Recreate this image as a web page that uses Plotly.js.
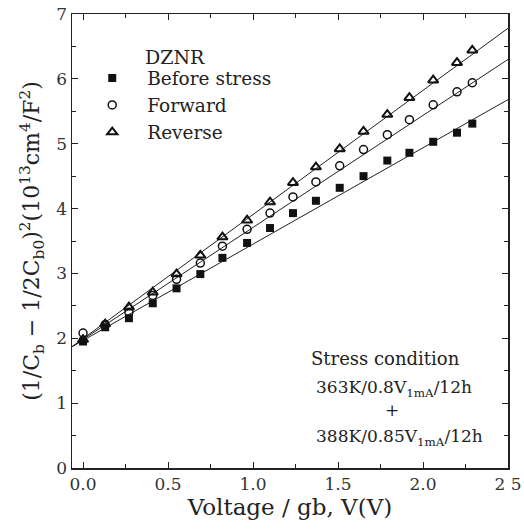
<!DOCTYPE html>
<html>
<head>
<meta charset="utf-8">
<script src="https://cdn.plot.ly/plotly-3.0.1.min.js"></script>
<style>html,body{margin:0;padding:0;background:#fff;}#chart{width:524px;height:529px;}</style>
</head>
<body>
<div id="chart"></div>
<script>
// Voltage (V)
const voltage = [0.0, 0.13, 0.27, 0.41, 0.55, 0.69, 0.82, 0.965, 1.1, 1.235, 1.37, 1.51, 1.65, 1.79, 1.92, 2.06, 2.2, 2.29];
const beforeStress = [1.95, 2.17, 2.31, 2.54, 2.77, 2.99, 3.24, 3.47, 3.70, 3.93, 4.12, 4.32, 4.50, 4.74, 4.86, 5.03, 5.17, 5.31];
const forward = [2.08, 2.21, 2.40, 2.66, 2.91, 3.16, 3.42, 3.68, 3.93, 4.18, 4.41, 4.66, 4.91, 5.14, 5.37, 5.60, 5.80, 5.94];
const reverse = [1.98, 2.22, 2.48, 2.71, 2.99, 3.28, 3.56, 3.82, 4.10, 4.40, 4.64, 4.92, 5.19, 5.45, 5.71, 5.98, 6.25, 6.44];
// fitted straight lines (end points)
const fitX = [-0.065, 2.5];
const fitBefore = [1.87, 5.68];
const fitForward = [1.87, 6.30];
const fitReverse = [1.87, 6.78];

const seriesNames = ['Before stress', 'Forward', 'Reverse'];
const xTickVals = [0, 0.5, 1.0, 1.5, 2.0, 2.5];
const xTickText = ['0.0', '0.5', '1.0', '1.5', '2.0', '2 5'];

const font = 'DejaVu Serif, Liberation Serif, serif';
const ink = '#222';

const traces = [
  {x: fitX, y: fitBefore, mode: 'lines', line: {color: ink, width: 1}, showlegend: false, hoverinfo: 'skip'},
  {x: fitX, y: fitForward, mode: 'lines', line: {color: ink, width: 1}, showlegend: false, hoverinfo: 'skip'},
  {x: fitX, y: fitReverse, mode: 'lines', line: {color: ink, width: 1}, showlegend: false, hoverinfo: 'skip'},
  {x: voltage, y: beforeStress, mode: 'markers', name: seriesNames[0],
   marker: {symbol: 'square', size: 8, color: '#111'}},
  {x: voltage, y: forward, mode: 'markers', name: seriesNames[1],
   marker: {symbol: 'circle-open', size: 8, color: '#111', line: {width: 1.5, color: '#111'}}},
  {x: voltage, y: reverse, mode: 'markers', name: seriesNames[2],
   marker: {symbol: 'triangle-up-open', size: 9, color: '#111', line: {width: 2, color: '#111'}}}
];

const layout = {
  width: 524, height: 529,
  margin: {l: 72, r: 16, t: 14, b: 61},
  paper_bgcolor: '#fff', plot_bgcolor: '#fff',
  font: {family: font, color: ink, size: 16},
  showlegend: true,
  legend: {x: 0.012, y: 0.9, xanchor: 'left', yanchor: 'top', bgcolor: 'rgba(0,0,0,0)',
           font: {family: font, size: 18.5, color: ink}, tracegroupgap: 0, itemwidth: 60},
  xaxis: {
    range: [-0.065, 2.5], showgrid: false, zeroline: false,
    showline: true, linecolor: ink, linewidth: 1.5, mirror: 'allticks',
    ticks: 'inside', ticklen: 6, tickcolor: ink,
    tickvals: xTickVals, ticktext: xTickText,
    tickfont: {family: font, size: 17, color: '#333'},
    minor: {dtick: 0.25, ticks: 'inside', ticklen: 4, tickcolor: ink, showgrid: false},
    title: {text: 'Voltage / gb, V(V)', font: {family: font, size: 23, color: ink}, standoff: 4}
  },
  yaxis: {
    range: [0, 7], dtick: 1, showgrid: false, zeroline: false,
    showline: true, linecolor: ink, linewidth: 1.5, mirror: 'allticks',
    ticks: 'inside', ticklen: 6, tickcolor: ink,
    tickfont: {family: font, size: 17, color: '#333'},
    minor: {dtick: 0.5, ticks: 'inside', ticklen: 4, tickcolor: ink, showgrid: false},
    title: {text: '(1/C<sub>b</sub> − 1/2C<sub>b0</sub>)<sup>2</sup>(10<sup>13</sup>cm<sup>4</sup>/F<sup>2</sup>)',
            font: {family: font, size: 22, color: ink}, standoff: 10}
  },
  annotations: [
    {xref: 'paper', yref: 'paper', x: 0.162, y: 0.905, xanchor: 'left', yanchor: 'middle',
     text: 'DZNR', showarrow: false, font: {family: font, size: 19, color: ink}},
    {xref: 'paper', yref: 'paper', x: 0.72, y: 0.242, xanchor: 'center', yanchor: 'middle',
     text: 'Stress condition', showarrow: false, font: {family: font, size: 18, color: ink}},
    {xref: 'paper', yref: 'paper', x: 0.738, y: 0.176, xanchor: 'center', yanchor: 'middle',
     text: '363K/0.8V<sub>1mA</sub>/12h', showarrow: false, font: {family: font, size: 17, color: ink}},
    {xref: 'paper', yref: 'paper', x: 0.733, y: 0.128, xanchor: 'center', yanchor: 'middle',
     text: '+', showarrow: false, font: {family: font, size: 17, color: ink}},
    {xref: 'paper', yref: 'paper', x: 0.75, y: 0.068, xanchor: 'center', yanchor: 'middle',
     text: '388K/0.85V<sub>1mA</sub>/12h', showarrow: false, font: {family: font, size: 17, color: ink}}
  ]
};

Plotly.newPlot('chart', traces, layout, {staticPlot: true, displayModeBar: false});
</script>
</body>
</html>
